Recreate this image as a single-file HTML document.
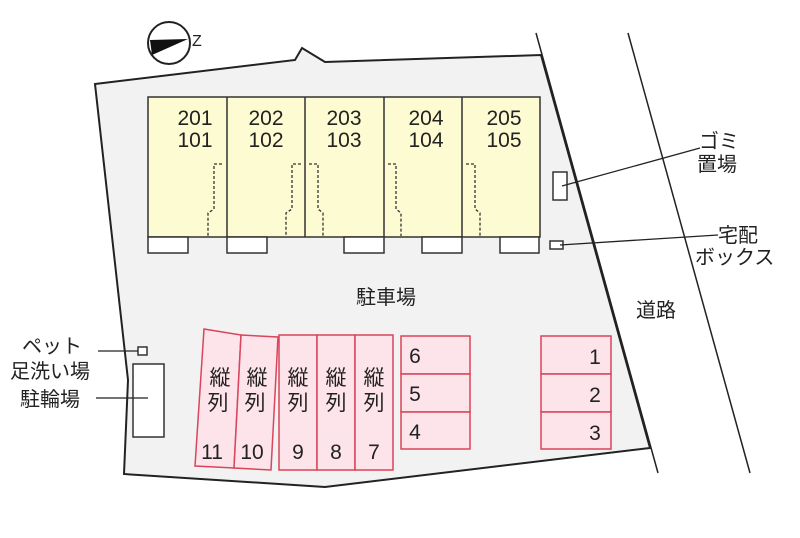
<!DOCTYPE html>
<html><head><meta charset="utf-8"><style>
body{margin:0;background:#fff}
svg text{font-family:"Liberation Sans","Noto Sans CJK JP",sans-serif;fill:#222}
</style></head><body>
<svg width="800" height="533" viewBox="0 0 800 533" xmlns="http://www.w3.org/2000/svg">
<polygon points="95,84 295,60 302,48 325,62 541,55 650,448 325,487 124,474 128,380" fill="#f2f2f2" stroke="#222" stroke-width="2"/>
<line x1="536" y1="33" x2="658" y2="473" stroke="#222" stroke-width="1.5"/>
<line x1="628" y1="33" x2="750" y2="473" stroke="#222" stroke-width="1.5"/>
<circle cx="169" cy="43" r="21" fill="#fff" stroke="#222" stroke-width="2"/>
<polygon points="150,40 188,39 152,55" fill="#111"/>
<text x="192" y="46" font-size="16">Z</text>
<rect x="148" y="97" width="392" height="140" fill="#fcfbd2" stroke="#333" stroke-width="1.5"/>
<g stroke="#333" stroke-width="1.5"><line x1="227" y1="97" x2="227" y2="237"/><line x1="305" y1="97" x2="305" y2="237"/><line x1="384" y1="97" x2="384" y2="237"/><line x1="462" y1="97" x2="462" y2="237"/></g>
<g fill="none" stroke="#333" stroke-width="1.3" stroke-dasharray="3,2">
<path d="M222,164 H214 V209 L208,213 V236"/><path d="M301,164 H292 V209 L286,213 V236"/>
<path d="M309,164 H318 V209 L323,213 V236"/><path d="M388,164 H396 V209 L401,213 V236"/>
<path d="M466,164 H475 V209 L480,213 V236"/></g>
<g font-size="21" text-anchor="middle"><text x="195" y="125">201</text><text x="195" y="147">101</text>
<text x="266" y="125">202</text><text x="266" y="147">102</text><text x="344" y="125">203</text><text x="344" y="147">103</text>
<text x="426" y="125">204</text><text x="426" y="147">104</text><text x="504" y="125">205</text><text x="504" y="147">105</text></g>
<g fill="#fff" stroke="#333" stroke-width="1.5"><rect x="148" y="237" width="40" height="16"/><rect x="227" y="237" width="40" height="16"/><rect x="344" y="237" width="40" height="16"/><rect x="422" y="237" width="40" height="16"/><rect x="500" y="237" width="39" height="16"/>
<rect x="553" y="172" width="14" height="28"/><rect x="550" y="241" width="13" height="8"/>
<rect x="138" y="347" width="9" height="8"/><rect x="133" y="364" width="31" height="73"/></g>
<g stroke="#222" stroke-width="1.3"><line x1="562" y1="186" x2="700" y2="148"/><line x1="560" y1="245" x2="718" y2="235"/>
<line x1="98" y1="351" x2="138" y2="351"/><line x1="96" y1="398" x2="148" y2="398"/></g>
<g font-size="20"><text x="699" y="148">ゴミ</text><text x="697" y="171">置場</text><text x="718" y="242">宅配</text><text x="695" y="264">ボックス</text>
<text x="636" y="317">道路</text><text x="356" y="304">駐車場</text>
<text x="22" y="353">ペット</text><text x="10" y="378">足洗い場</text><text x="20" y="406">駐輪場</text></g>
<g fill="#fde3ea" stroke="#d9455b" stroke-width="1.5">
<polygon points="204,329 241,335 234,468 195,466"/><polygon points="241,335 278,337 271,470 234,468"/>
<rect x="279" y="335" width="38" height="135"/><rect x="317" y="335" width="38" height="135"/><rect x="355" y="335" width="38" height="135"/>
<rect x="401" y="336" width="69" height="38"/><rect x="401" y="374" width="69" height="38"/><rect x="401" y="412" width="69" height="37"/>
<rect x="541" y="336" width="70" height="38"/><rect x="541" y="374" width="70" height="38"/><rect x="541" y="412" width="70" height="37"/></g>
<g font-size="21" text-anchor="middle"><text x="220" y="385">縦</text><text x="218" y="410">列</text><text x="257" y="385">縦</text><text x="255" y="410">列</text>
<text x="298" y="385">縦</text><text x="298" y="410">列</text><text x="336" y="385">縦</text><text x="336" y="410">列</text><text x="374" y="385">縦</text><text x="374" y="410">列</text>
<text x="212" y="459">11</text><text x="252" y="459">10</text><text x="298" y="459">9</text><text x="336" y="459">8</text><text x="374" y="459">7</text>
<text x="415" y="363">6</text><text x="415" y="401">5</text><text x="415" y="439">4</text>
<text x="595" y="364">1</text><text x="595" y="402">2</text><text x="595" y="440">3</text></g>
</svg>
</body></html>
